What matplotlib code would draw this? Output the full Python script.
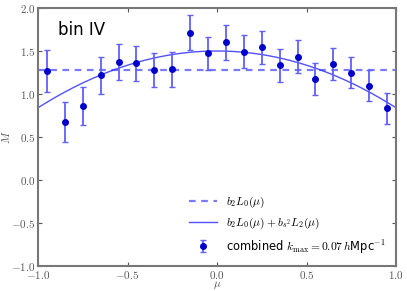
import numpy as np
import matplotlib
matplotlib.use("Agg")
import matplotlib.pyplot as plt

plt.rcParams['mathtext.fontset'] = 'cm'
plt.rcParams['font.family'] = ['DejaVu Sans']

mu = [-0.95, -0.85, -0.75, -0.65, -0.55, -0.45, -0.35, -0.25, -0.15, -0.05,
      0.05, 0.15, 0.25, 0.35, 0.45, 0.55, 0.65, 0.75, 0.85, 0.95]
M = [1.267, 0.674, 0.857, 1.217, 1.368, 1.357, 1.279, 1.287, 1.713, 1.473,
     1.601, 1.492, 1.543, 1.333, 1.434, 1.174, 1.345, 1.248, 1.097, 0.834]
M_err = [0.24, 0.23, 0.22, 0.215, 0.21, 0.20, 0.20, 0.20, 0.20, 0.19,
         0.20, 0.19, 0.19, 0.19, 0.19, 0.19, 0.185, 0.18, 0.18, 0.18]
b2 = 1.28
bs2 = -0.44

xticks = [-1.0, -0.5, 0.0, 0.5, 1.0]
yticks = [-1.0, -0.5, 0.0, 0.5, 1.0, 1.5, 2.0]

fig = plt.figure(figsize=(4.07, 2.91), dpi=100)
ax = fig.add_axes([0.0934, 0.0859, 0.8796, 0.8866])

mm = np.linspace(-1, 1, 200)
L0 = np.ones_like(mm)
L2 = 0.5 * (3 * mm**2 - 1)
ax.plot(mm, b2 * L0, ls='--', color='#4d4dff', alpha=0.75, lw=1.6, dashes=(3, 2.5),
        label=r'$b_2L_0(\mu)$')
ax.plot(mm, b2 * L0 + bs2 * L2, ls='-', color='#3333ff', alpha=0.85, lw=1.0,
        label=r'$b_2L_0(\mu)+b_{s^2}L_2(\mu)$')
ax.errorbar(mu, M, yerr=M_err, fmt='o', color='#0000cc', ms=4,
            ecolor='#6060ff', elinewidth=1.3, capsize=2.5, capthick=1.0,
            label=r'combined $k_{\rm max}=0.07\,h$Mpc$^{-1}$')

ax.set_xlim(-1, 1)
ax.set_ylim(-1, 2)
ax.set_xticks(xticks)
ax.set_yticks(yticks)
ax.set_xticklabels([r'$%.1f$' % v for v in xticks])
ax.set_yticklabels([r'$%.1f$' % v for v in yticks])
ax.tick_params(direction='in', top=True, right=True, labelsize=8,
               colors='#555555', length=3, width=0.8, pad=2)
for s in ax.spines.values():
    s.set_color('#777777')
    s.set_linewidth(1.5)
ax.set_xlabel(r'$\mu$', fontsize=8, color='#555555', labelpad=-1)
ax.set_ylabel(r'$M$', fontsize=8, color='#555555', labelpad=-1)

ax.text(-0.89, 1.745, 'bin IV', fontsize=12, va='center', ha='left')

ax.legend(loc='lower right', frameon=False, fontsize=8.3, handlelength=2.4,
          labelspacing=0.55, borderaxespad=0.5, handletextpad=0.8)

fig.savefig('out.png', dpi=100)
